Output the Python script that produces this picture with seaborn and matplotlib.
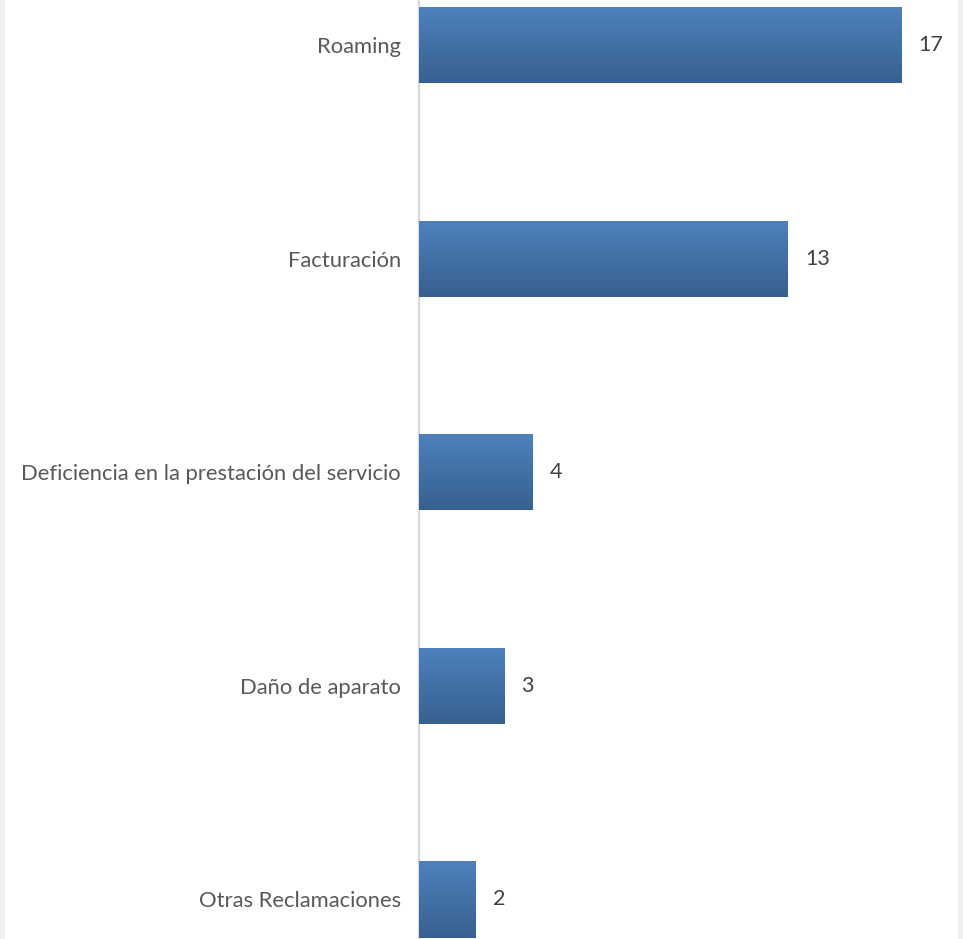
import numpy as np
import pandas as pd
import matplotlib
matplotlib.use("Agg")
import matplotlib.pyplot as plt
import seaborn as sns
from matplotlib.colors import LinearSegmentedColormap
from matplotlib.patches import Rectangle

categories = ["Roaming", "Facturación", "Deficiencia en la prestación del servicio",
              "Daño de aparato", "Otras Reclamaciones"]
values = [17, 13, 4, 3, 2]

df = pd.DataFrame({"cat": categories, "val": values})

sns.set_theme(style="white")
plt.rcParams['font.family'] = ['Lato', 'DejaVu Sans']

W, H = 963, 939
fig = plt.figure(figsize=(W / 100, H / 100), dpi=100)
fig.patch.set_facecolor("white")
ax = fig.add_axes([419 / W, 0, (958 - 419) / W, 1])

sns.barplot(data=df, x="val", y="cat", orient="h", ax=ax, width=0.356,
            color="#4A76AE", saturation=1, edgecolor="none")

ax.set_xlim(0, 19)
ax.set_ylim(4.185, -0.211)

cmap = LinearSegmentedColormap.from_list("g", ["#4F81BD", "#36608F"])
grad = np.linspace(0, 1, 256).reshape(-1, 1)
for p in list(ax.patches):
    x0, y0 = p.get_x(), p.get_y()
    w, h = p.get_width(), p.get_height()
    im = ax.imshow(grad, cmap=cmap, aspect="auto",
                   extent=[x0, x0 + w, y0 + h, y0], origin="upper", zorder=3)
    im.set_clip_path(p)
    p.set_zorder(2)

for i, v in enumerate(values):
    ax.text(v + 0.6, i, str(v), va="center", ha="left", fontsize=15.5, color="#404040")

ax.set_xlabel("")
ax.set_ylabel("")
ax.set_xticks([])
ax.tick_params(axis="y", length=0, pad=20, labelsize=15.8, labelcolor="#595959")
for s in ["top", "right", "bottom"]:
    ax.spines[s].set_visible(False)
ax.spines["left"].set_color("#D9D9D9")
ax.spines["left"].set_linewidth(1.6)
for lbl in ax.get_yticklabels():
    lbl.set_x(-12 / 539 * 0)  # keep default
ax.tick_params(axis="y", pad=13)

fig.patches.append(Rectangle((0, 0), 5 / W, 1, transform=fig.transFigure,
                             facecolor="#EFEFEF", edgecolor="none", zorder=0))
fig.patches.append(Rectangle((958 / W, 0), 5 / W, 1, transform=fig.transFigure,
                             facecolor="#EFEFEF", edgecolor="none", zorder=0))

fig.savefig("out.png", dpi=100)
